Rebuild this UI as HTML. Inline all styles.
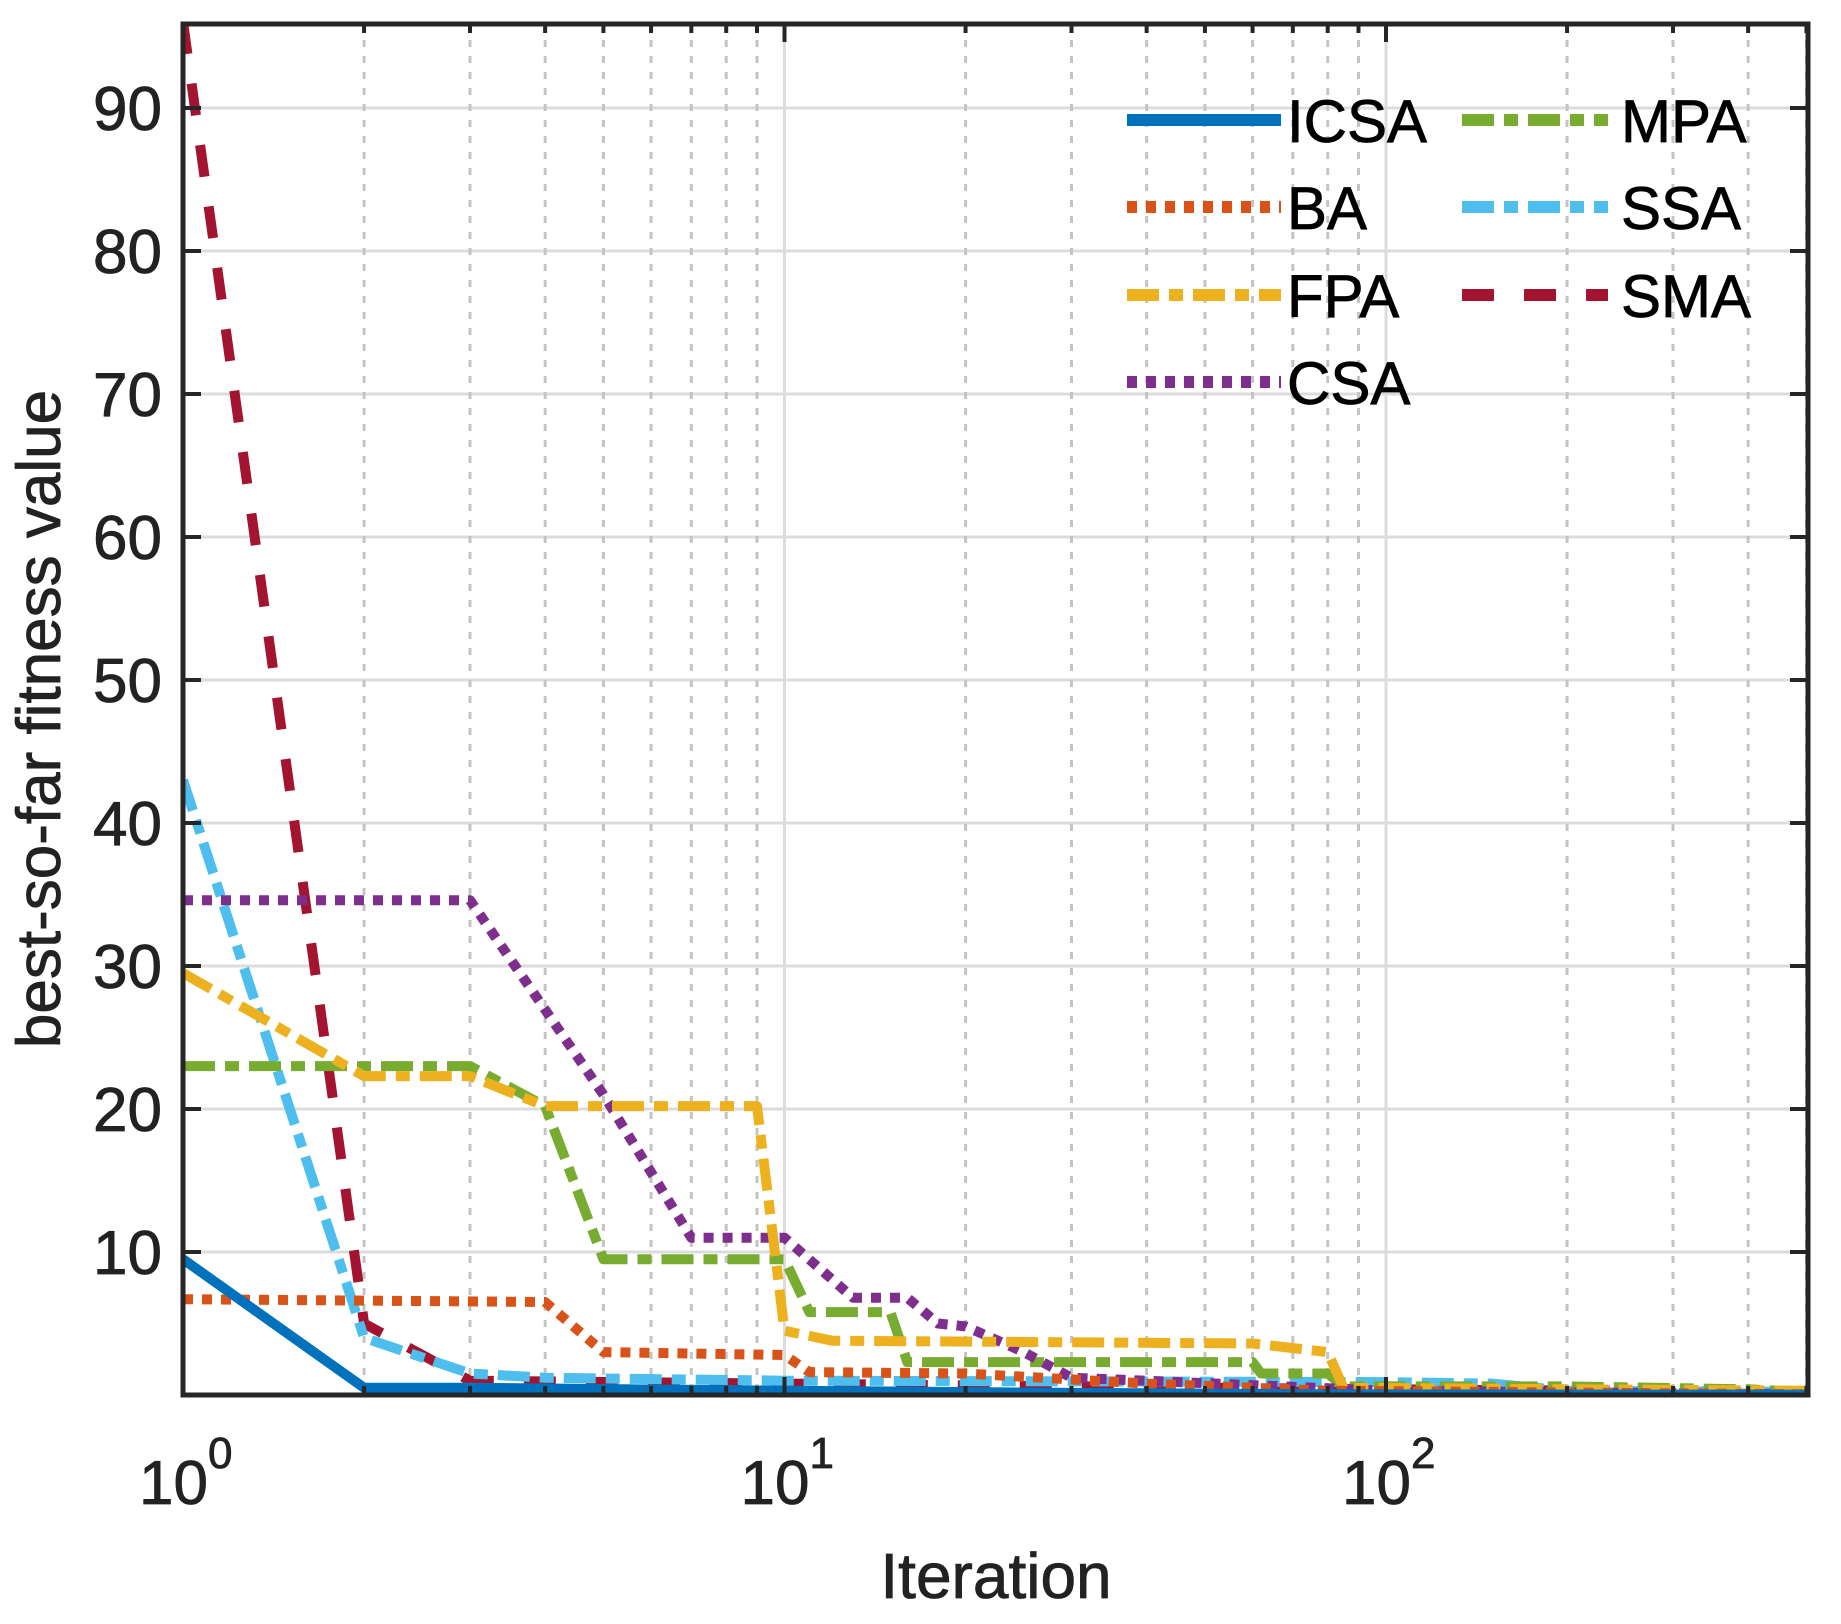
<!DOCTYPE html>
<html><head><meta charset="utf-8"><style>
html,body{margin:0;padding:0;background:#fff;}
svg{display:block;font-family:"Liberation Sans",Arial,sans-serif;}
</style></head><body>
<svg id="chart" width="1841" height="1624" viewBox="0 0 1841 1624"></svg>
<script>
const seriesNames=["ICSA","BA","FPA","CSA","MPA","SSA","SMA"];
const icsaIter=[1,2,3,10,30,80,500];
const icsaVal=[9.5,0.5,0.5,0.3,0.15,0.05,0.02];
const baIter=[1,4,5,10,11,20,40,80,500];
const baVal=[6.7,6.5,3.0,2.8,1.6,1.5,0.8,0.3,0.05];
const fpaIter=[1,2,3,4,9,10,12,60,80,85,500];
const fpaVal=[29.5,22.3,22.3,20.2,20.2,4.5,3.8,3.6,3.0,0.5,0.3];
const csaIter=[1,3,5,7,10,13,16,18,20,25,30,40,100,500];
const csaVal=[34.6,34.6,21,11,11,6.8,6.8,5,4.8,3,1.2,1,0.3,0.05];
const mpaIter=[1,3,4,5,10,11,15,16,60,62,80,85,200,400,500];
const mpaVal=[23,23,20.2,9.5,9.5,5.8,5.8,2.3,2.3,1.5,1.5,0.6,0.6,0.4,0.2];
const ssaIter=[1,2,3,4,10,100,150,200,500];
const ssaVal=[43,4,1.5,1.2,1.0,0.9,0.8,0.3,0.2];
const smaIter=[1,2,3,10,100,500];
const smaVal=[96,5,1,0.8,0.4,0.2];
const yTicks=[10,20,30,40,50,60,70,80,90];
const xDecades=[0,1,2];

const L=183,R=1808,T=24,B=1395,DEC=601.5,Y10=143;
const xs=v=>L+Math.log10(v)*DEC;
const ys=v=>B-v*Y10/10;
const NS="http://www.w3.org/2000/svg";
const svg=document.getElementById('chart');
function mk(tag,attrs,parent){const e=document.createElementNS(NS,tag);for(const k in attrs)e.setAttribute(k,attrs[k]);(parent||svg).appendChild(e);return e;}

const defs=mk('defs',{});const cp=mk('clipPath',{id:'pc'},defs);mk('rect',{x:L,y:T,width:R-L,height:B-T},cp);

const grid=mk('g',{});


yTicks.forEach(v=>{const l=mk('line',{x1:L,x2:R,y1:ys(v),y2:ys(v),stroke:'#dcdcdc','stroke-width':3},grid);

});
for(let d=0;d<3;d++){for(let m=1;m<10;m++){const v=m*Math.pow(10,d);if(v>500)break;const x=xs(v);
 if(m===1){if(d>0){const l=mk('line',{x1:x,x2:x,y1:T,y2:B,stroke:'#dcdcdc','stroke-width':3},grid);
 
 }}
 else{const l=mk('line',{x1:x,x2:x,y1:T,y2:B,stroke:'#c4c4c4','stroke-width':3,'stroke-dasharray':'7 9'},grid);
 
 }}}

const colors=["#0072BD","#D95319","#EDB120","#7E2F8E","#77AC30","#4DBEEE","#A2142F"];
const dashes=["none","10 9","32 10 14 10","10 9","32 10 14 10","32 10 14 10","32 30"];
const iters=[icsaIter,baIter,fpaIter,csaIter,mpaIter,ssaIter,smaIter];
const vals=[icsaVal,baVal,fpaVal,csaVal,mpaVal,ssaVal,smaVal];
const lg=mk('g',{'clip-path':'url(#pc)'});
[6,5,4,3,2,1,0].forEach(i=>{
 const pts=iters[i].map((it,j)=>xs(it).toFixed(1)+','+ys(vals[i][j]).toFixed(1)).join(' ');
 const p=mk('polyline',{points:pts,fill:'none',stroke:colors[i],'stroke-width':10,'stroke-dasharray':dashes[i],'stroke-linejoin':'round'},lg);
 
 
});

const ax=mk('g',{});


mk('rect',{x:L,y:T,width:R-L,height:B-T,fill:'none',stroke:'#262626','stroke-width':5},ax);
yTicks.forEach(v=>{const y=ys(v);
 mk('line',{x1:L,x2:L+18,y1:y,y2:y,stroke:'#262626','stroke-width':4},ax);
 mk('line',{x1:R-18,x2:R,y1:y,y2:y,stroke:'#262626','stroke-width':4},ax);
 const t=mk('text',{x:162,y:y+22,'text-anchor':'end','font-size':62,fill:'#222',stroke:'#222','stroke-width':0.8});
 t.textContent=v;
 
 });
for(let d=0;d<3;d++){for(let m=1;m<10;m++){const v=m*Math.pow(10,d);if(v>500)break;const x=xs(v);const len=m===1?18:9;
 mk('line',{x1:x,x2:x,y1:B,y2:B-len,stroke:'#262626','stroke-width':4},ax);
 mk('line',{x1:x,x2:x,y1:T,y2:T+len,stroke:'#262626','stroke-width':4},ax);}}
xDecades.forEach(d=>{const x=xs(Math.pow(10,d));
 const t=mk('text',{x:x-44,y:1504,'font-size':62,fill:'#222',stroke:'#222','stroke-width':0.8});
 
 
 t.appendChild(document.createTextNode('10'));
 const s=mk('tspan',{dy:-36,'font-size':44},t);s.textContent=d;});

const xt=mk('text',{x:996,y:1598,'text-anchor':'middle','font-size':64,fill:'#222',stroke:'#222','stroke-width':0.8});
xt.textContent='Iteration';


const yt=mk('text',{x:0,y:0,'text-anchor':'middle','font-size':62,fill:'#222',stroke:'#222','stroke-width':0.8,transform:'translate(60,719) rotate(-90)'});
yt.textContent='best-so-far fitness value';



const leg=mk('g',{});


const legPos=[[0,0],[0,1],[0,2],[0,3],[1,0],[1,1],[1,2]];
const colX=[[1127,1281,1287],[1462,1608,1621]];
const rowY=[120,207,295,382];
seriesNames.forEach((n,i)=>{const c=colX[legPos[i][0]],y=rowY[legPos[i][1]];
 const g=mk('g',{},leg);
 
 
 mk('line',{x1:c[0],x2:c[1],y1:y,y2:y,stroke:colors[i],'stroke-width':12,'stroke-dasharray':dashes[i]},g);
 const t=mk('text',{x:c[2],y:y+22,'font-size':60,fill:'#000',stroke:'#000','stroke-width':0.8},g);t.textContent=n;});
</script>
</body></html>
